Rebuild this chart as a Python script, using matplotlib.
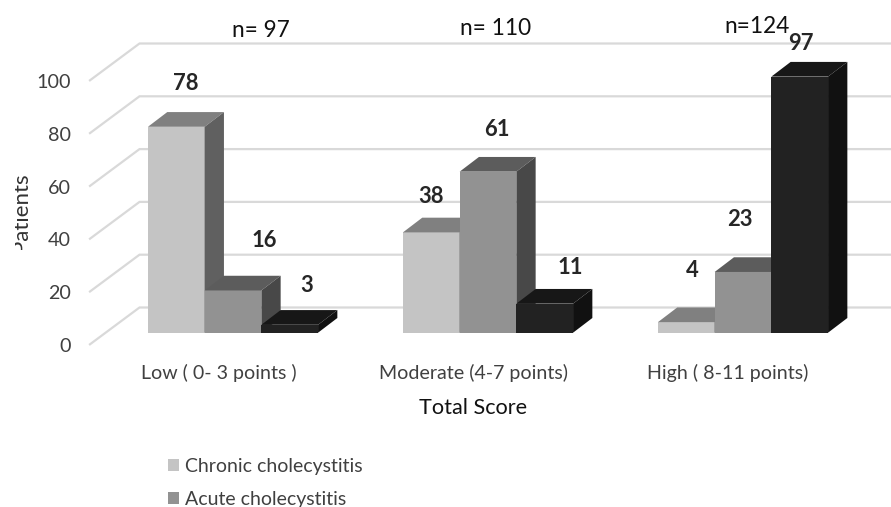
import matplotlib
matplotlib.use("Agg")
import matplotlib.pyplot as plt
from matplotlib.patches import Patch, Rectangle

categories = ["Low ( 0- 3 points )", "Moderate (4-7 points)", "High ( 8-11 points)"]
chronic = [78, 38, 4]
acute = [16, 61, 23]
third_series = [3, 11, 97]
group_sizes = ["n= 97", "n= 110", "n=124"]
y_ticks = [0, 20, 40, 60, 80, 100]
series_names = ["Chronic cholecystitis", "Acute cholecystitis"]

W, H = 891, 507
plt.rcParams["font.family"] = ["Lato", "DejaVu Sans"]
fig = plt.figure(figsize=(W / 100, H / 100), dpi=100)
ax = fig.add_axes([0, 0, 1, 1])
ax.axis("off")

# scales: px per unit
SY = 2.64
SX = 255.0
X0, Y0 = 233.0, 332.7
ax.set_xlim(-X0 / SX, (W - X0) / SX)
ax.set_ylim(-(H - Y0) / SY, Y0 / SY)

bar_w = 56.7 / SX
dx, dy = 19.3 / SX, 14.7 / SY
# grid offsets relative to bar plane
back_x, back_y = (139.5 - X0) / SX, 25.2 / SY
front_x, front_y = (90 - X0) / SX, -11.6 / SY
right_x = (W - X0) / SX

GRID = "#d9d9d9"
for t in y_ticks:
    ax.plot([front_x, back_x, right_x], [t + front_y, t + back_y, t + back_y],
            color=GRID, lw=1.6, solid_joinstyle="miter", zorder=1)
    ax.text((71 - X0) / SX, t + front_y - 0.8, str(t), ha="right", va="center",
            fontsize=14.2, color="#404040")

series = [chronic, acute, third_series]
front_c = ["#c4c4c4", "#929292", "#222222"]
top_c = ["#808080", "#5c5c5c", "#171717"]
side_c = ["#606060", "#484848", "#111111"]

z = 3
for g in range(len(categories)):
    for s, vals in enumerate(series):
        v = vals[g]
        left = g + (s - 1.5) * bar_w
        right = left + bar_w
        ax.bar(left, v, width=bar_w, align="edge", color=front_c[s], zorder=z)
        ax.fill([left, right, right + dx, left + dx], [v, v, v + dy, v + dy],
                color=top_c[s], lw=0, zorder=z)
        ax.fill([right, right + dx, right + dx, right], [0, dy, v + dy, v],
                color=side_c[s], lw=0, zorder=z)
        z += 1

# data labels: pixel offsets from each bar's centre and top
label_off = [[(9.5, 43.5), (31, 50), (17, 39)],
             [(0, 35.5), (9, 42), (26, 36)],
             [(6, 52), (-3, 52), (1, 33.5)]]
for g in range(len(categories)):
    for s, vals in enumerate(series):
        ox, oy = label_off[g][s]
        ax.text(g + (s - 1) * bar_w + ox / SX, vals[g] + oy / SY, str(vals[g]),
                ha="center", va="center", fontsize=15.8, fontweight="bold",
                color="#262626", zorder=50)

n_px = [(261, 30), (496, 28), (757, 26)]
for label, (px, py) in zip(group_sizes, n_px):
    ax.text((px - X0) / SX, (Y0 - py) / SY, label, ha="center", va="center",
            fontsize=16.3, color="#111111", zorder=40)

cat_px = [219, 473.5, 728]
for label, px in zip(categories, cat_px):
    ax.text((px - X0) / SX, (Y0 - 373) / SY, label, ha="center", va="center",
            fontsize=14.1, color="#404040")

ax.text((473 - X0) / SX, (Y0 - 408) / SY, "Total Score", ha="center", va="center",
        fontsize=15.6, color="#111111")

# y axis title, clipped as in the source image
yt = ax.text(21 / W, 1 - 212 / H, "Patients", rotation=90, ha="center", va="center",
             fontsize=16, color="#333333", transform=fig.transFigure, clip_on=True)
clip = Rectangle((15, H - 250), 60, 80, transform=None)
yt.set_clip_path(clip)

handles = [Patch(facecolor=c, edgecolor="none") for c in front_c[:2]]
fig.legend(handles, series_names, loc="upper left",
           bbox_to_anchor=(162 / W, 1 - 452 / H), bbox_transform=fig.transFigure,
           frameon=False, fontsize=14, labelcolor="#404040",
           handlelength=0.57, handleheight=0.57, handletextpad=0.3,
           labelspacing=0.84, borderpad=0.3, borderaxespad=0)

fig.savefig("out.png", dpi=100)
